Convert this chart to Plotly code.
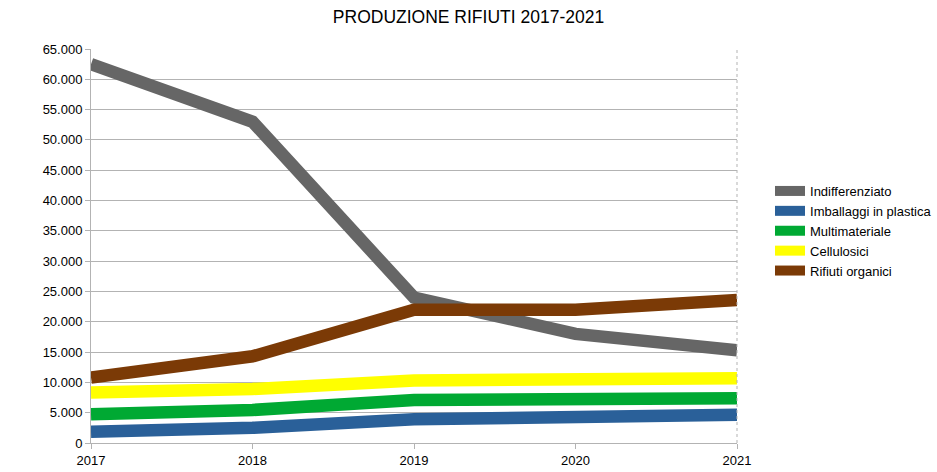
import plotly.graph_objects as go

years = [2017, 2018, 2019, 2020, 2021]
indifferenziato = [62500, 53000, 24000, 18000, 15300]
imballaggi = [1850, 2500, 3900, 4100, 4650]
multimateriale = [4750, 5450, 7100, 7200, 7400]
cellulosici = [8350, 8900, 10300, 10400, 10700]
organici = [10800, 14300, 22000, 22000, 23600]

series = [
    ("Indifferenziato", indifferenziato, "#666666"),
    ("Imballaggi in plastica", imballaggi, "#2a6099"),
    ("Multimateriale", multimateriale, "#00a933"),
    ("Cellulosici", cellulosici, "#ffff00"),
    ("Rifiuti organici", organici, "#7b3a06"),
]

fig = go.Figure()
for name, vals, col in series:
    fig.add_trace(go.Scatter(x=years, y=vals, name=name, mode="lines",
                             line=dict(color=col, width=12.5)))

fig.update_layout(
    template="none",
    width=937, height=472,
    paper_bgcolor="white", plot_bgcolor="white",
    separators=",.",
    font=dict(family="Liberation Sans, Arial, sans-serif", size=13, color="#000000"),
    title=dict(text="PRODUZIONE RIFIUTI 2017-2021", x=0.5, xanchor="center",
               y=0.965, yanchor="middle", font=dict(size=17.5)),
    margin=dict(l=91, r=200, t=49, b=29),
    legend=dict(xref="container", yref="container", x=0.8218, xanchor="left",
                y=0.5106, yanchor="middle",
                font=dict(size=13), tracegroupgap=0, itemwidth=30,
                borderwidth=0, bgcolor="rgba(0,0,0,0)"),
    xaxis=dict(range=[2017, 2021], tickmode="array", tickvals=years,
               ticktext=[str(y) for y in years], showgrid=False, automargin=False,
               showline=True, linecolor="#b3b3b3", ticks="outside",
               ticklen=5, tickcolor="#b3b3b3", zeroline=False),
    yaxis=dict(range=[0, 65000], dtick=5000, tickformat=",d", automargin=False,
               showgrid=True, gridcolor="#b3b3b3", gridwidth=1,
               showline=True, linecolor="#b3b3b3", ticks="outside",
               ticklen=5, tickcolor="#b3b3b3", zeroline=False),
)
fig.add_shape(type="line", xref="paper", yref="paper", x0=1, x1=1, y0=0, y1=1,
              line=dict(color="#b3b3b3", width=1, dash="dot"))

fig.write_html("out.html", config={"displayModeBar": False},
               post_script="document.body.style.margin='0';document.body.style.overflow='hidden';")
